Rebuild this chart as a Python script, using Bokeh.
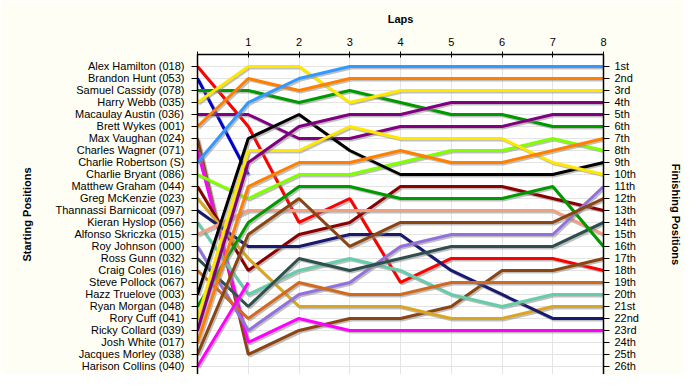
from bokeh.plotting import figure
from bokeh.models import Range1d, LinearAxis, FixedTicker, ColumnDataSource
from bokeh.transform import dodge
from bokeh.embed import file_html
from bokeh.resources import INLINE

# ---------------- data ----------------
laps = [0, 1, 2, 3, 4, 5, 6, 7, 8]
lap_tick_labels = ["", "1", "2", "3", "4", "5", "6", "7", "8"]

drivers = [
    "Alex Hamilton (018)", "Brandon Hunt (053)", "Samuel Cassidy (078)", "Harry Webb (035)",
    "Macaulay Austin (036)", "Brett Wykes (001)", "Max Vaughan (024)", "Charles Wagner (071)",
    "Charlie Robertson (S)", "Charlie Bryant (086)", "Matthew Graham (044)", "Greg McKenzie (023)",
    "Thannassi Barnicoat (097)", "Kieran Hyslop (056)", "Alfonso Skriczka (015)", "Roy Johnson (000)",
    "Ross Gunn (032)", "Craig Coles (016)", "Steve Pollock (067)", "Hazz Truelove (003)",
    "Ryan Morgan (048)", "Rory Cuff (041)", "Ricky Collard (039)", "Josh White (017)",
    "Jacques Morley (038)", "Harison Collins (040)",
]

finish_labels = ["1st", "2nd", "3rd", "4th", "5th", "6th", "7th", "8th", "9th", "10th",
                 "11th", "12th", "13th", "14th", "15th", "16th", "17th", "18th", "19th", "20th",
                 "21st", "22nd", "23rd", "24th", "25th", "26th"]

# position of each driver (in starting order) at the end of each lap; None = out
lap_0 = [1, 2, 3, 4, 5, 6, 7, 8, 9, 10, 11, 12, 13, 14, 15, 16, 17, 18, 19, 20, 21, 22, 23, 24, 25, 26]
lap_1 = [6, 10, 3, 1, 5, 2, 25, 24, 4, 12, 18, 17, 16, 20, 13, 23, 21, 22, None, 7, 14, 8, 9, 11, 15, 19]
lap_2 = [14, None, 4, 1, 7, 3, 23, 22, 2, 10, 15, 21, 16, 18, 13, 20, 17, 19, None, 5, 11, 8, 6, 9, 12, None]
lap_3 = [12, None, 3, 4, 7, 2, 22, 23, 1, 10, 14, 21, 15, 17, 13, 19, 18, 20, None, 8, 11, 6, 5, 9, 16, None]
lap_4 = [19, None, 4, 3, 6, 2, 22, 23, 1, 9, 11, 21, 15, 18, 13, 16, 17, 20, None, 10, 12, 7, 5, 8, 14, None]
lap_5 = [17, None, 5, 3, 6, 2, 21, 23, 1, 8, 11, 22, 18, 20, 13, 15, 16, 19, None, 10, 12, 7, 4, 9, 14, None]
lap_6 = [17, None, 5, 3, 6, 2, 18, 23, 1, 8, 11, 22, 20, 21, 13, 15, 16, 19, None, 10, 12, 7, 4, 9, 14, None]
lap_7 = [17, None, 6, 3, 5, 2, 18, 23, 1, 7, 12, 21, 22, 20, 13, 15, 16, 19, None, 10, 11, 9, 4, 8, 14, None]
lap_8 = [18, None, 6, 3, 5, 2, 17, 23, 1, 8, 13, 21, 22, 20, 15, 11, 14, 19, None, 9, 16, 10, 4, 7, 12, None]

# ---------------- style ----------------
colors = [
    "#FF0000", "#0000CD", "#009A00", "#FFE800", "#800080", "#FF8000", "#8B4513", "#FF00FF",
    "#3399FF", "#80FF00", "#8B0000", "#DAA520", "#191970", "#66CDAA", "#F4A080", "#9370DB",
    "#2F4F4F", "#D2691E", "#000000", "#000000", "#009A00", "#FFE800", "#800080", "#FF8000",
    "#8B4513", "#FF00FF",
]

FONT = "Liberation Sans"
BG = "#FFFEF4"

p = figure(width=684, height=374, output_backend="svg", toolbar_location=None,
           x_range=Range1d(0, 8), y_range=Range1d(26.67, 0),
           x_axis_location="above",
           min_border_left=197, min_border_right=78, min_border_top=54, min_border_bottom=0,
           border_fill_color=BG, background_fill_color="#FFFFFF", outline_line_color=None)

all_laps = [lap_0, lap_1, lap_2, lap_3, lap_4, lap_5, lap_6, lap_7, lap_8]
for i, name in enumerate(drivers):
    xs = [l for l, col in zip(laps, all_laps) if col[i] is not None]
    ys = [col[i] for col in all_laps if col[i] is not None]
    if len(xs) < 2:
        continue
    src = ColumnDataSource(dict(lap=xs, pos=ys))
    p.line(x=dodge("lap", 0.03), y=dodge("pos", 0.13), source=src,
           line_color="#8a8a8a", line_alpha=0.55, line_width=3)
    p.line(x="lap", y="pos", source=src, line_color=colors[i], line_width=3)

# grids
p.xgrid.ticker = FixedTicker(ticks=laps)
p.ygrid.ticker = FixedTicker(ticks=lap_0)
p.xgrid.grid_line_color = "#E4E4E4"
p.ygrid.grid_line_color = "#E4E4E4"

# top axis
xa = p.xaxis[0]
xa.ticker = FixedTicker(ticks=laps)
xa.major_label_overrides = {l: t for l, t in zip(laps, lap_tick_labels)}
xa.axis_label = "Laps"
xa.minor_tick_line_color = None
xa.major_tick_out = 3
xa.major_tick_in = 3
xa.major_label_standoff = 6
xa.axis_label_standoff = 10

# left axis
ya = p.yaxis[0]
ya.ticker = FixedTicker(ticks=lap_0)
ya.major_label_overrides = {k: n for k, n in zip(lap_0, drivers)}
ya.axis_label = "Starting Positions"
ya.minor_tick_line_color = None
ya.major_tick_out = 6
ya.major_tick_in = 0
ya.major_label_standoff = 7
ya.axis_label_standoff = 19

# right axis
ra = LinearAxis(ticker=FixedTicker(ticks=lap_0),
                major_label_overrides={k: t for k, t in zip(lap_0, finish_labels)},
                axis_label="Finishing Positions")
ra.minor_tick_line_color = None
ra.major_tick_out = 6
ra.major_tick_in = 0
ra.major_label_standoff = 5
ra.axis_label_standoff = 28
p.add_layout(ra, "right")

for ax in [xa, ya, ra]:
    ax.axis_line_color = "#000000"
    ax.axis_line_width = 1.5
    ax.major_tick_line_color = "#000000"
    ax.major_label_text_font = FONT
    ax.major_label_text_font_size = "11px"
    ax.major_label_text_color = "#000000"
    ax.axis_label_text_font = FONT
    ax.axis_label_text_font_size = "11px"
    ax.axis_label_text_font_style = "bold"
    ax.axis_label_text_color = "#000000"
ya.major_label_text_align = "right"

open("out.html", "w").write(file_html(p, INLINE))
